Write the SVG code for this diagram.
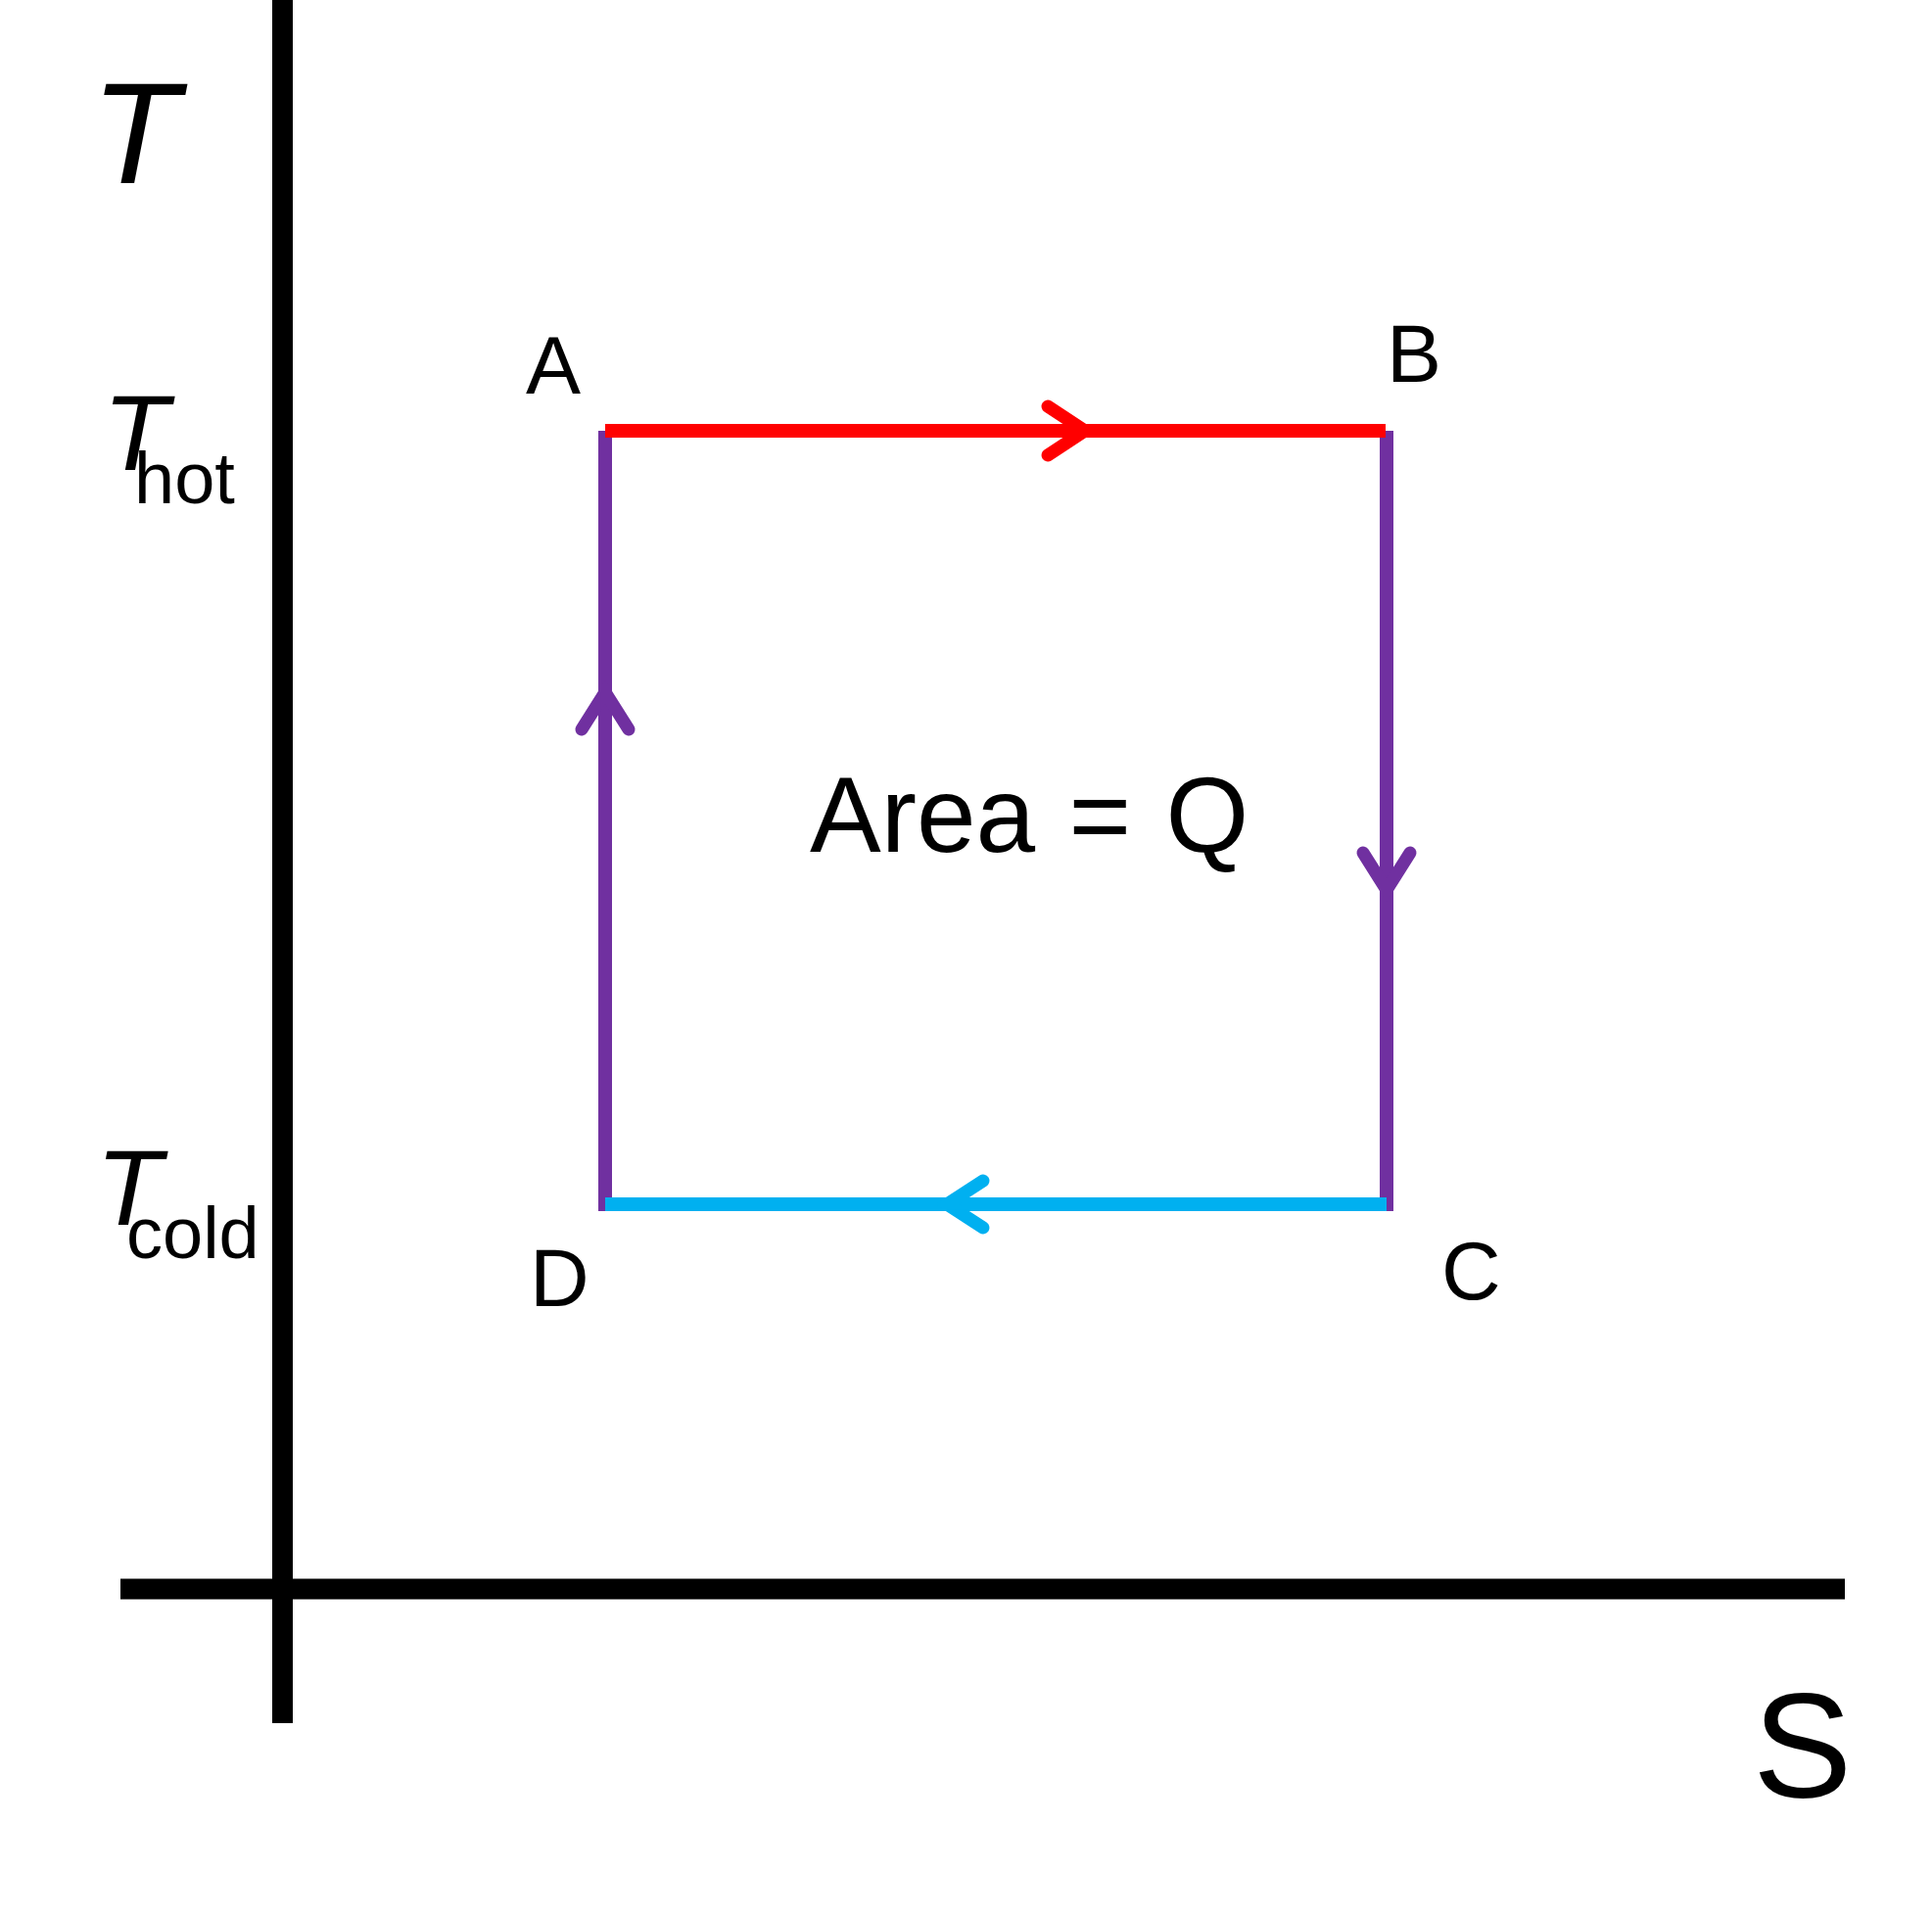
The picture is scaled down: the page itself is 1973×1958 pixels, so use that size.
<svg xmlns="http://www.w3.org/2000/svg" width="1973" height="1958" viewBox="0 0 1973 1958">
<style>
text{font-family:"Liberation Sans",Arial,sans-serif;fill:#000}
.it{font-style:italic}
.axis{stroke:#000;stroke-width:21;fill:none}
.edge{stroke-width:14;fill:none;stroke-linecap:butt}
.head{stroke-width:13;fill:none;stroke-linecap:round;stroke-linejoin:miter;stroke-miterlimit:10}
.purple{stroke:#7030A0}
.red{stroke:#FF0000}
.cyan{stroke:#00B0F0}
</style>
<rect x="0" y="0" width="1973" height="1958" fill="#fff"/>
<g id="axes">
<line class="axis" x1="288.5" y1="0" x2="288.5" y2="1760"/>
<line class="axis" x1="123" y1="1623" x2="1884" y2="1623"/>
</g>
<g id="axis-labels">
<text class="it" x="93" y="187" font-size="147">T</text>
<text id="label-s" x="1790" y="1836" font-size="152">S</text>
<g id="label-thot"><text class="it" x="105" y="480" font-size="110">T</text><text x="137" y="514" font-size="74">hot</text></g>
<g id="label-tcold"><text class="it" x="98" y="1251" font-size="110">T</text><text x="129" y="1285" font-size="74">cold</text></g>
</g>
<g id="connectors">
<line id="edge-DA" class="edge purple" x1="618" y1="440" x2="618" y2="1237"/>
<line id="edge-BC" class="edge purple" x1="1416" y1="440" x2="1416" y2="1237"/>
<line id="edge-AB" class="edge red" x1="618" y1="440" x2="1415" y2="440"/>
<line id="edge-CD" class="edge cyan" x1="618" y1="1230" x2="1416" y2="1230"/>
<polyline class="head red" points="1070,415 1108,440 1070,465"/>
<polyline class="head purple" points="594,745 618,707 642,745"/>
<polyline class="head purple" points="1392,871 1416,909 1440,871"/>
<polyline class="head cyan" points="1004,1206 967,1230 1004,1254"/>
</g>
<g id="node-A"><text x="537" y="402" font-size="84">A</text></g>
<g id="node-B"><text x="1416" y="390" font-size="84">B</text></g>
<g id="node-C"><text x="1472" y="1327" font-size="84">C</text></g>
<g id="node-D"><text x="541" y="1334" font-size="84">D</text></g>
<g id="area-label"><text x="827" y="870" font-size="109">Area<tspan dx="4"> =</tspan><tspan dx="5"> Q</tspan></text></g>
</svg>
